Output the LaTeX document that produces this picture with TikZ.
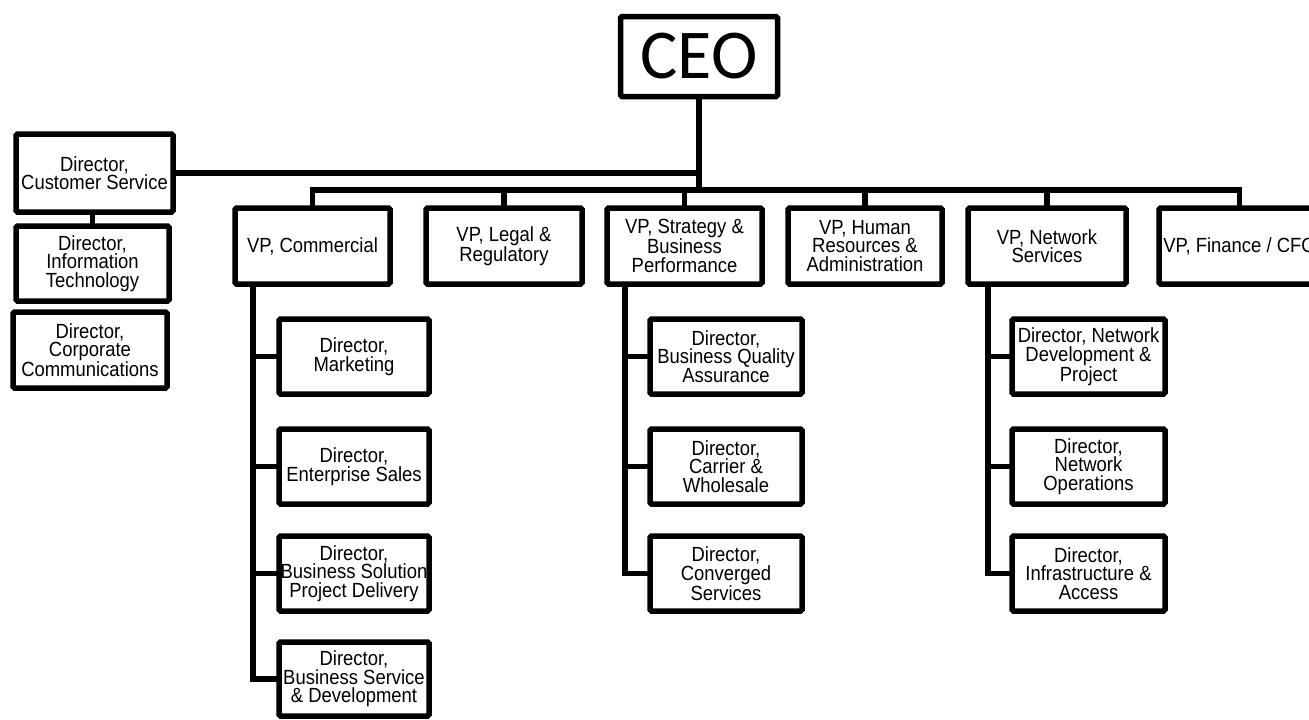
\documentclass[tikz,border=0pt]{standalone}
\usepackage{fontspec}
\setmainfont{Liberation Sans}[FakeStretch=0.9]
\newfontfamily\ceofont{Carlito}
\usepackage{tikz}
\usetikzlibrary{positioning, calc}

\tikzset{
	box/.style={draw, line width=5.5pt, rounded corners=1.5pt, align=center, inner sep=0pt,
		font=\fontsize{20.5}{18.5}\selectfont},
	link/.style={line width=5.5pt, line cap=rect},
}

\begin{document}
\begin{tikzpicture}[x=1pt, y=-1pt]
\useasboundingbox (0,0) rectangle (1309,720);
\node[box, minimum width=157pt, minimum height=80pt, font=\ceofont\fontsize{70}{70}\selectfont] (ceo) at (699,56.5) {CEO};
% left column
\node[box, minimum width=157pt, minimum height=78pt] (dcs) at (94.5,173) {Director,\\Customer Service};
\node[box, minimum width=153pt, minimum height=75pt] (dit) at (92.5,263.5) {Director,\\Information\\Technology};
\node[box, minimum width=154pt, minimum height=76pt] (dcc) at (90,350) {Director,\\Corporate\\Communications};
% vice presidents
\foreach \n/\x/\w/\t in {vpcom/312.5/155/{VP, Commercial}, vplegal/504/156/{VP, Legal \&\\Regulatory},
		vpstrat/684.5/155/{VP, Strategy \&\\Business\\Performance}, vphr/865/154/{VP, Human\\Resources \&\\Administration},
		vpnet/1047/158/{VP, Network\\Services}, vpfin/1239.5/161/{VP, Finance / CFO}}
	\node[box, minimum width=\w pt, minimum height=76pt] (\n) at (\x,246) {\t};
% directors
\foreach \n/\y/\h/\t in {com1/356.5/75/{Director,\\Marketing}, com2/466.5/75/{Director,\\Enterprise Sales},
		com3/573.5/75/{Director,\\Business Solution\\Project Delivery}, com4/679/74/{Director,\\Business Service\\\& Development}}
	\node[box, minimum width=150pt, minimum height=\h pt] (\n) at (354,\y) {\t};
\foreach \n/\y/\t in {str1/356.5/{Director,\\Business Quality\\Assurance}, str2/466.5/{Director,\\Carrier \&\\Wholesale},
		str3/573.5/{Director,\\Converged\\Services}}
	\node[box, minimum width=152pt, minimum height=75pt] (\n) at (726,\y) {\t};
\foreach \n/\y/\t in {net1/356.5/{Director, Network\\Development \&\\Project}, net2/466.5/{Director,\\Network\\Operations},
		net3/573.5/{Director,\\Infrastructure \&\\Access}}
	\node[box, minimum width=153pt, minimum height=75pt] (\n) at (1088.5,\y) {\t};
% connectors
\coordinate (bus) at (0,190);
\draw[link] (ceo.south) -- (ceo.south |- bus);
\draw[link] (dcs.east) -- (dcs.east -| ceo.south);
\draw[link] (dit.north |- dcs.south) -- (dit.north);
\draw[link] (vpcom.north |- bus) -- (vpfin.north |- bus);
\foreach \n in {vpcom, vplegal, vpstrat, vphr, vpnet, vpfin}
	\draw[link] (\n.north) -- (\n.north |- bus);
\foreach \vp/\tx/\kids in {vpcom/253/{com1,com2,com3,com4}, vpstrat/625/{str1,str2,str3}, vpnet/988/{net1,net2,net3}} {
	\coordinate (\vp x) at (\tx,0);
	\foreach \c in \kids
		\draw[link] (\vp.south -| \vp x) |- (\c.west);
}
\end{tikzpicture}
\end{document}
